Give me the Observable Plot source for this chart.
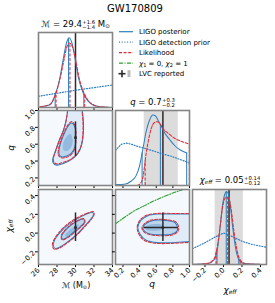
<!DOCTYPE html>
<html><head><meta charset="utf-8">
<script src="https://cdn.jsdelivr.net/npm/d3@7"></script>
<script src="https://cdn.jsdelivr.net/npm/@observablehq/plot@0.6"></script>
<style>
html,body{margin:0;padding:0;background:#fff}
#c{position:relative;width:275px;height:303px;overflow:hidden;font-family:"DejaVu Sans",sans-serif;color:#000}
.t{position:absolute;white-space:nowrap;line-height:1}
.ctr{transform:translateX(-50%)}
.ss{display:inline-block;font-size:0.62em;line-height:0.95;vertical-align:-0.45em;text-align:left;margin-left:0.5px}
.ss span{display:block}
.sb{font-size:0.65em;vertical-align:-0.25em}
.rot{transform:translate(-50%,-50%) rotate(-90deg)}
</style></head><body><div id="c"></div>
<script>
// ---------- data ----------
const mcTicks = [26, 28, 30, 32, 34];
const qTicks = [0.2, 0.4, 0.6, 0.8, 1.0];
const chiTicks = [-0.2, 0.0, 0.2, 0.4];
const mcDomain = [26, 34];
const qDomain = [0.11, 1.0];
const chiDomain = [-0.335, 0.465];

// LVC reported values and intervals
const lvcMc = 30.0;
const lvcQ = 0.68, lvcQInt = [0.455, 0.865];
const lvcChi = 0.06, lvcChiInt = [-0.09, 0.215];

// marginal: chirp mass
const mcPost = [[26.16,0.01],[27.24,0.035],[27.78,0.16],[28.32,0.40],[28.68,0.65],[29.05,0.87],[29.3,0.93],[29.59,0.87],[29.95,0.66],[30.31,0.40],[30.85,0.19],[31.39,0.08],[31.93,0.03],[32.65,0.01],[33.5,0.003]];
const mcLike = [[26.2,0.01],[27.2,0.04],[27.8,0.16],[28.3,0.37],[28.7,0.6],[29.05,0.8],[29.35,0.86],[29.7,0.8],[30.05,0.61],[30.4,0.39],[30.9,0.2],[31.4,0.09],[31.9,0.04],[32.6,0.012],[33.5,0.003]];
const mcPrior = [[26,0.15],[28,0.19],[30,0.23],[32,0.265],[34,0.30]];
const mcPostQ = [27.8, 29.25, 30.9];
const mcLikeQ = [27.9, 29.4, 31.0];

// marginal: mass ratio
const qPost = [[0.114,0.013],[0.216,0.017],[0.297,0.057],[0.358,0.132],[0.398,0.256],[0.438,0.477],[0.479,0.72],[0.52,0.874],[0.56,0.94],[0.589,0.93],[0.62,0.874],[0.662,0.786],[0.702,0.70],[0.763,0.61],[0.824,0.53],[0.885,0.477],[0.966,0.433]];
const qLike = [[0.37,0.0],[0.398,0.013],[0.438,0.10],[0.459,0.256],[0.479,0.43],[0.50,0.565],[0.54,0.76],[0.58,0.84],[0.613,0.85],[0.64,0.83],[0.68,0.76],[0.74,0.70],[0.82,0.63],[0.90,0.59],[1.0,0.55]];
const qPrior = [[0.11,0.47],[0.18,0.55],[0.24,0.565],[0.30,0.55],[0.38,0.52],[0.48,0.49],[0.58,0.455],[0.68,0.42],[0.78,0.39],[0.88,0.35],[1.0,0.30]];
const qPostQ = [0.43, 0.65, 0.966];
const qLikeQ = [0.467, 0.685, 0.998];

// marginal: effective spin
const chiPost = [[-0.335,0],[-0.168,0.013],[-0.098,0.067],[-0.063,0.224],[-0.035,0.515],[-0.011,0.785],[0.015,0.94],[0.032,0.973],[0.053,0.94],[0.078,0.74],[0.102,0.47],[0.13,0.224],[0.165,0.067],[0.218,0.013],[0.428,0]];
const chiLike = [[-0.335,0],[-0.17,0.015],[-0.1,0.08],[-0.065,0.25],[-0.035,0.52],[-0.01,0.76],[0.02,0.89],[0.04,0.9],[0.06,0.87],[0.085,0.72],[0.11,0.47],[0.14,0.23],[0.175,0.07],[0.23,0.015],[0.43,0]];
const chiPrior = [[-0.335,0.21],[-0.2,0.29],[-0.1,0.36],[0.0,0.42],[0.1,0.37],[0.2,0.31],[0.3,0.27],[0.465,0.23]];
const chiPostQ = [-0.07, 0.03, 0.165];
const chiLikeQ = [-0.08, 0.045, 0.18];

// 2D: q vs chirp mass (contours)
const qmOuterB = [[29.15,1.03],[29.15,1.0],[28.97,0.878],[28.68,0.764],[28.25,0.65],[27.82,0.516],[27.53,0.42],[27.6,0.375],[27.96,0.352],[28.68,0.371],[29.59,0.42],[30.3,0.497],[30.67,0.592],[30.85,0.726],[30.85,0.878],[30.74,1.0],[30.74,1.03]];
const qmOuterR = [[29.2,1.03],[29.15,1.0],[28.98,0.88],[28.7,0.76],[28.28,0.65],[27.86,0.52],[27.6,0.425],[27.67,0.385],[28.0,0.365],[28.7,0.385],[29.6,0.43],[30.28,0.505],[30.64,0.6],[30.8,0.73],[30.8,0.88],[30.7,1.0],[30.7,1.03]];
const qmInnerB = [[29.59,0.851],[29.95,0.802],[30.02,0.688],[29.95,0.573],[29.59,0.497],[29.05,0.459],[28.5,0.451],[28.22,0.478],[28.25,0.554],[28.5,0.65],[28.86,0.745],[29.23,0.821]];
const qmInnerR = [[29.6,0.87],[29.98,0.81],[30.05,0.69],[29.98,0.57],[29.6,0.485],[29.05,0.445],[28.45,0.44],[28.15,0.47],[28.2,0.56],[28.47,0.66],[28.85,0.76],[29.22,0.835]];
const qmCore = [[29.45,0.72],[29.7,0.65],[29.55,0.57],[29.1,0.52],[28.7,0.53],[28.65,0.6],[28.95,0.68]];

// 2D: chi vs chirp mass
const cmOuterB = [[31.86,0.221],[31.21,0.203],[30.13,0.149],[29.05,0.077],[28.32,0.006],[27.78,-0.066],[27.6,-0.127],[27.78,-0.163],[28.32,-0.149],[29.05,-0.102],[29.95,-0.031],[30.85,0.06],[31.57,0.139],[31.93,0.192]];
const cmOuterR = [[31.95,0.228],[31.25,0.212],[30.1,0.158],[29.0,0.085],[28.25,0.01],[27.7,-0.065],[27.5,-0.13],[27.7,-0.172],[28.3,-0.158],[29.05,-0.108],[29.98,-0.036],[30.9,0.058],[31.65,0.14],[32.0,0.195]];
const cmInnerB = [[30.85,0.149],[30.13,0.124],[29.41,0.077],[28.86,0.023],[28.5,-0.031],[28.61,-0.066],[29.05,-0.048],[29.76,0.006],[30.49,0.067],[30.96,0.113]];
const cmInnerR = [[30.9,0.155],[30.15,0.13],[29.4,0.083],[28.82,0.027],[28.45,-0.03],[28.55,-0.072],[29.05,-0.055],[29.8,0.0],[30.55,0.063],[31.02,0.114]];
const cmCore = [[30.3,0.095],[29.9,0.07],[29.2,0.02],[28.85,-0.025],[29.05,-0.04],[29.6,-0.005],[30.25,0.055]];

// 2D: chi vs q
const cqOuterB = [[1.06,0.203],[0.994,0.203],[0.783,0.203],[0.621,0.203],[0.499,0.185],[0.418,0.139],[0.378,0.06],[0.41,-0.019],[0.479,-0.076],[0.621,-0.102],[0.783,-0.102],[0.994,-0.091],[1.06,-0.09]];
const cqOuterR = [[1.06,0.21],[0.99,0.21],[0.78,0.21],[0.62,0.21],[0.495,0.193],[0.41,0.145],[0.37,0.06],[0.40,-0.025],[0.47,-0.085],[0.62,-0.11],[0.78,-0.11],[0.99,-0.10],[1.06,-0.10]];
const cqInnerB = [[0.856,0.06],[0.824,0.113],[0.742,0.131],[0.621,0.139],[0.52,0.124],[0.459,0.088],[0.438,0.053],[0.467,0.013],[0.54,-0.012],[0.662,-0.019],[0.783,-0.012],[0.844,0.016]];
const cqInnerR = [[0.87,0.06],[0.835,0.12],[0.745,0.14],[0.62,0.148],[0.515,0.132],[0.45,0.092],[0.428,0.053],[0.46,0.008],[0.54,-0.02],[0.665,-0.028],[0.79,-0.02],[0.855,0.012]];
const cqCore = [[0.68,0.085],[0.55,0.095],[0.47,0.07],[0.48,0.035],[0.56,0.025],[0.68,0.045]];
const cqSpin = [[0.114,0.103],[0.216,0.167],[0.337,0.239],[0.459,0.293],[0.58,0.347],[0.702,0.393],[0.824,0.436],[0.946,0.472],[1.0,0.49]];

const legendLabels = ["LIGO posterior", "LIGO detection prior", "Likelihood", "χ1 = 0, χ2 = 1", "LVC reported"];

// ---------- styles ----------
const BLUE = "#2f7fc0", RED = "#dc2f3c", GREEN = "#2ca02c", LVC = "#2a2a2a";
const BG = "#f5f9fe", F1 = "#e0ecf8", F2 = "#bcd5ec", F3 = "#94badf";
const FRAME = "#858585";
const SW = 1.05;
const DASH = "3,1.6", DOT = "1,1.7", DASHDOT = "4,1.5,1,1.5";
const fmt = d3.format(".1f");
const none = () => "";

const C = document.getElementById("c");
const colX = [38, 115, 192], rowY = [32, 110, 188.5];
const PW = 74, PH = 75;

function at(curve, x) {
  const i = d3.bisector(d => d[0]).left(curve, x);
  if (i <= 0) return curve[0][1];
  if (i >= curve.length) return curve[curve.length - 1][1];
  const a = curve[i - 1], b = curve[i], t = (x - a[0]) / (b[0] - a[0]);
  return a[1] + t * (b[1] - a[1]);
}

function panel(col, row, x, y, marks) {
  const svg = Plot.plot({
    width: PW, height: PH,
    marginTop: 0, marginRight: 0, marginBottom: 0, marginLeft: 0,
    style: {background: "transparent", overflow: "visible", fontSize: "7px", fontFamily: "DejaVu Sans, sans-serif", color: "#000"},
    x: Object.assign({label: null, tickSize: 3, tickPadding: 1.5, tickRotate: -45}, x),
    y: Object.assign({label: null, tickSize: 3, tickPadding: 1.5, tickRotate: -45}, y),
    marks: [...marks, Plot.frame({stroke: FRAME, strokeWidth: 1.6})]
  });
  svg.style.position = "absolute";
  svg.style.left = colX[col] + "px";
  svg.style.top = rowY[row] + "px";
  C.appendChild(svg);
}

const P = d => d[0], Q = d => d[1];
function marginalMarks(post, like, prior, postQ, likeQ, lvcLine, band) {
  const m = [];
  if (band) m.push(Plot.rectX([band], {x1: d => d[0], x2: d => d[1], fill: "#dcdcdc"}));
  m.push(Plot.ruleX([lvcLine], {stroke: LVC, strokeWidth: 1.5}));
  m.push(Plot.line(prior, {x: P, y: Q, stroke: BLUE, strokeWidth: 1.2, strokeDasharray: DOT, clip: true}));
  m.push(Plot.line(post, {x: P, y: Q, stroke: BLUE, strokeWidth: SW, curve: "monotone-x", clip: true}));
  m.push(Plot.ruleX(postQ, {x: d => d, y1: 0, y2: d => at(post, d), stroke: BLUE, strokeWidth: SW}));
  m.push(Plot.line(like, {x: P, y: Q, stroke: RED, strokeWidth: SW, strokeDasharray: DASH, curve: "monotone-x", clip: true}));
  m.push(Plot.ruleX(likeQ, {x: d => d, y1: 0, y2: d => at(like, d), stroke: RED, strokeWidth: SW, strokeDasharray: DASH}));
  return m;
}
function contourMarks(outerB, innerB, core, outerR, innerR) {
  const cc = "catmull-rom-closed";
  return [
    Plot.frame({fill: BG, stroke: "none"}),
    Plot.line(outerB, {x: P, y: Q, fill: F1, stroke: "none", curve: cc, clip: true}),
    Plot.line(innerB, {x: P, y: Q, fill: F2, stroke: "none", curve: cc, clip: true}),
    Plot.line(core, {x: P, y: Q, fill: F3, stroke: "none", curve: cc, clip: true}),
    Plot.line(outerB, {x: P, y: Q, stroke: BLUE, strokeWidth: SW, curve: cc, clip: true}),
    Plot.line(innerB, {x: P, y: Q, stroke: BLUE, strokeWidth: SW, curve: cc, clip: true}),
    Plot.line(outerR, {x: P, y: Q, stroke: RED, strokeWidth: SW, strokeDasharray: DASH, curve: cc, clip: true}),
    Plot.line(innerR, {x: P, y: Q, stroke: RED, strokeWidth: SW, strokeDasharray: DASH, curve: cc, clip: true})
  ];
}

const xMc = l => ({domain: mcDomain, ticks: mcTicks, tickFormat: l ? d3.format("d") : none});
const xQ = l => ({domain: qDomain, ticks: qTicks, tickFormat: l ? fmt : none});
const xChi = l => ({domain: chiDomain, ticks: chiTicks, tickFormat: l ? fmt : none});
const yM = {domain: [0, 1], axis: null};

// diagonal
panel(0, 0, xMc(false), yM, marginalMarks(mcPost, mcLike, mcPrior, mcPostQ, mcLikeQ, lvcMc, null));
panel(1, 1, xQ(false), yM, marginalMarks(qPost, qLike, qPrior, qPostQ, qLikeQ, lvcQ, lvcQInt));
panel(2, 2, xChi(true), yM, marginalMarks(chiPost, chiLike, chiPrior, chiPostQ, chiLikeQ, lvcChi, lvcChiInt));

// q vs Mc
panel(0, 1, xMc(false), {domain: qDomain, ticks: qTicks, tickFormat: fmt}, [
  ...contourMarks(qmOuterB, qmInnerB, qmCore, qmOuterR, qmInnerR),
  Plot.ruleX([lvcMc], {x: d => d, y1: lvcQInt[0], y2: lvcQInt[1], stroke: LVC, strokeWidth: 1.5}),
  Plot.dot([[lvcMc, lvcQ]], {x: P, y: Q, r: 1.5, fill: LVC, stroke: "none"})
]);
// chi vs Mc
panel(0, 2, xMc(true), {domain: chiDomain, ticks: chiTicks, tickFormat: fmt}, [
  ...contourMarks(cmOuterB, cmInnerB, cmCore, cmOuterR, cmInnerR),
  Plot.ruleX([lvcMc], {x: d => d, y1: lvcChiInt[0], y2: lvcChiInt[1], stroke: LVC, strokeWidth: 1.5}),
  Plot.dot([[lvcMc, lvcChi]], {x: P, y: Q, r: 1.5, fill: LVC, stroke: "none"})
]);
// chi vs q
panel(1, 2, xQ(true), {domain: chiDomain, ticks: chiTicks, tickFormat: none}, [
  ...contourMarks(cqOuterB, cqInnerB, cqCore, cqOuterR, cqInnerR),
  Plot.line(cqSpin, {x: P, y: Q, stroke: GREEN, strokeWidth: 1.1, strokeDasharray: DASHDOT, clip: true}),
  Plot.ruleX([lvcQ], {x: d => d, y1: lvcChiInt[0], y2: lvcChiInt[1], stroke: LVC, strokeWidth: 1.5}),
  Plot.ruleY([lvcChi], {y: d => d, x1: lvcQInt[0], x2: lvcQInt[1], stroke: LVC, strokeWidth: 1.5}),
  Plot.dot([[lvcQ, lvcChi]], {x: P, y: Q, r: 1.5, fill: LVC, stroke: "none"})
]);

// ---------- texts ----------
function txt(html, left, top, size, cls, extra) {
  const d = document.createElement("div");
  d.className = "t " + (cls || "");
  d.style.left = left + "px"; d.style.top = top + "px"; d.style.fontSize = size + "px";
  if (extra) d.style.cssText += extra;
  d.innerHTML = html;
  C.appendChild(d);
}
txt("GW170809", 135, 4, 10, "ctr");
txt('ℳ = 29.4<span class="ss"><span>+1.6</span><span>−1.4</span></span> M<span class="sb">⊙</span>', 75.5, 19.5, 8.5, "ctr");
txt('<i>q</i> = 0.7<span class="ss"><span>+0.3</span><span>−0.2</span></span>', 152.5, 97.5, 8.5, "ctr");
txt('<i>χ</i><span class="sb"><i>eff</i></span> = 0.05<span class="ss"><span>+0.14</span><span>−0.12</span></span>', 230, 175.5, 8.5, "ctr");
txt('ℳ (M<span class="sb">⊙</span>)', 76, 282, 8, "ctr");
txt('<i>q</i>', 152, 280, 9, "ctr");
txt('<i>χ</i><span class="sb"><i>eff</i></span>', 230, 286, 9, "ctr");
txt('<i>q</i>', 11, 148, 9, "rot");
txt('<i>χ</i><span class="sb"><i>eff</i></span>', 10, 226, 9, "rot");

// ---------- legend ----------
const lg = d3.select(C).append("svg").attr("width", 275).attr("height", 303)
  .style("position", "absolute").style("left", 0).style("top", 0).style("overflow", "visible")
  .attr("font-family", "DejaVu Sans, sans-serif").attr("font-size", 7);
const ly = [31.7, 42.2, 52.7, 63.2, 73.7];
const styles = [
  {stroke: BLUE, dash: null}, {stroke: BLUE, dash: DOT}, {stroke: RED, dash: DASH}, {stroke: GREEN, dash: DASHDOT}, null
];
legendLabels.forEach((lab, i) => {
  const y = ly[i];
  const s = styles[i];
  if (s) {
    lg.append("line").attr("x1", 119).attr("x2", 133).attr("y1", y).attr("y2", y)
      .attr("stroke", s.stroke).attr("stroke-width", 1.2).attr("stroke-dasharray", s.dash);
  } else {
    lg.append("line").attr("x1", 118.5).attr("x2", 125.5).attr("y1", y).attr("y2", y).attr("stroke", LVC).attr("stroke-width", 1.6);
    lg.append("line").attr("x1", 122).attr("x2", 122).attr("y1", y - 3.5).attr("y2", y + 3.5).attr("stroke", LVC).attr("stroke-width", 1.6);
    lg.append("rect").attr("x", 127.5).attr("y", y - 3.5).attr("width", 3).attr("height", 7).attr("fill", "#bdbdbd");
  }
  const t = lg.append("text").attr("x", 139).attr("y", y).attr("dy", "0.35em");
  if (i === 3) {
    t.append("tspan").attr("font-style", "italic").text("χ");
    t.append("tspan").attr("font-size", 5).attr("dy", 1.5).text("1");
    t.append("tspan").attr("dy", -1.5).text(" = 0, ");
    t.append("tspan").attr("font-style", "italic").text("χ");
    t.append("tspan").attr("font-size", 5).attr("dy", 1.5).text("2");
    t.append("tspan").attr("dy", -1.5).text(" = 1");
  } else t.text(lab);
});
</script></body></html>
